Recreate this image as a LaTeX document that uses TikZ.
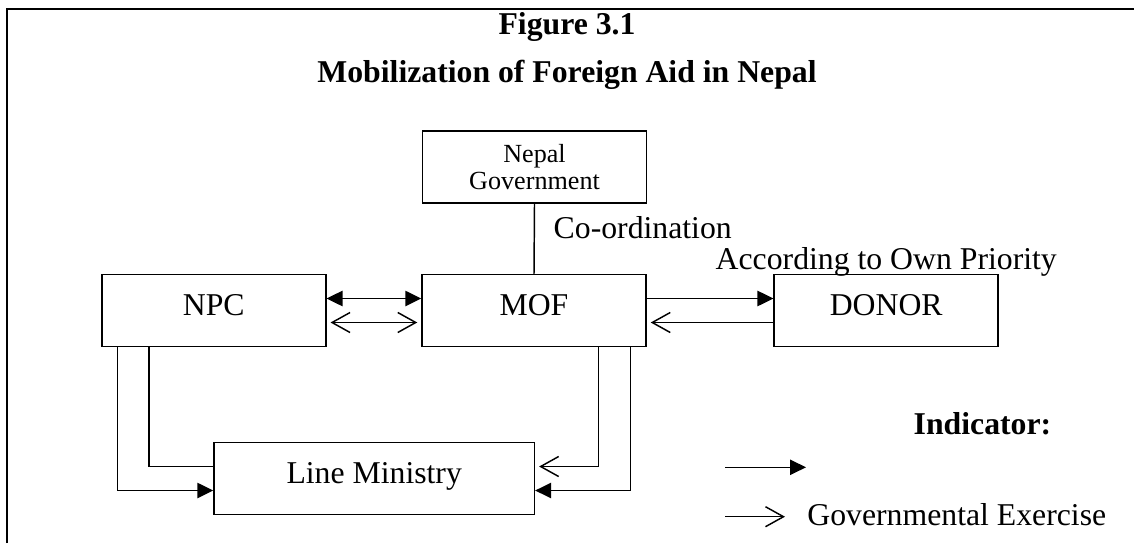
\documentclass[tikz,border=0pt]{standalone}
\usepackage{fontspec}
\setmainfont{Liberation Serif}
\usetikzlibrary{arrows.meta,positioning}

\begin{document}
\begin{tikzpicture}[x=0.75pt,y=-0.75pt,line width=1.1pt,
  box/.style={draw,minimum width=168pt,minimum height=54pt,inner sep=0pt,font=\fontsize{23.8}{28}\selectfont,text height=12pt,text depth=4pt},
  lbl/.style={inner sep=0pt,font=\fontsize{23.8}{28}\selectfont},
  fullarr/.style={-{Triangle[length=12pt,width=11.5pt]}},
  openarr/.style={-{Straight Barb[length=13.5pt,width=15pt]},shorten >=3pt}]
\useasboundingbox (0,0) rectangle (1134,543);
\draw (7,543) -- (7,9) -- (1134,9);
% titles
\node[lbl,font=\fontsize{23.8}{28}\selectfont\bfseries,anchor=base] (fig_no) at (567,34) {Figure 3.1};
\node[lbl,font=\fontsize{23.8}{28}\selectfont\bfseries,anchor=base] (fig_title) at (567,82) {Mobilization of Foreign Aid in Nepal};
% boxes
\node[box,font=\fontsize{19.6}{20.3}\selectfont,align=center,text height=,text depth=] (gov) at (534.5,167) {Nepal\\Government};
\node[box] (npc) at (213.8,310.5) {NPC};
\node[box] (mof) at (534,310.5) {MOF};
\node[box] (donor) at (886.2,310.5) {DONOR};
\node[box,minimum width=240.3pt] (lm) at (374.2,478.5) {Line Ministry};
\node[lbl,anchor=base west] (coord_lbl) at (553,238) {Co-ordination};
\node[lbl,anchor=base west] (prio_lbl) at (715,269.3) {According to Own Priority};
% links
\draw (gov.south) -- (mof.north);
\draw[{Triangle[length=12pt,width=11.5pt]}-{Triangle[length=12pt,width=11.5pt]}] ([yshift=9pt]npc.east) -- ([yshift=9pt]mof.west);
\draw[{Straight Barb[length=13.5pt,width=15pt]}-{Straight Barb[length=13.5pt,width=15pt]},shorten <=3pt,shorten >=3pt] ([yshift=-9pt]npc.east) -- ([yshift=-9pt]mof.west);
\draw[fullarr] ([yshift=9pt]mof.east) -- ([yshift=9pt]donor.west);
\draw[openarr] ([yshift=-9pt]donor.west) -- ([yshift=-9pt]mof.east);
\draw ([xshift=36pt]npc.south west) |- ([yshift=9pt]lm.west);
\draw[fullarr] ([xshift=12.5pt]npc.south west) |- ([yshift=-9pt]lm.west);
\draw[openarr] ([xshift=-36pt]mof.south east) |- ([yshift=9pt]lm.east);
\draw[fullarr] ([xshift=-12pt]mof.south east) |- ([yshift=-9pt]lm.east);
% indicator
\node[lbl,font=\fontsize{23.8}{28}\selectfont\bfseries,anchor=base west] (ind_lbl) at (913,434) {Indicator:};
\coordinate (key_a) at (725,467.3);
\coordinate (key_b) at (806,467.3);
\coordinate (key_c) at (725,516.7);
\coordinate (key_d) at (789,516.7);
\draw[fullarr] (key_a) -- (key_b);
\draw[openarr] (key_c) -- (key_d);
\node[lbl,anchor=base west] (gov_ex) at (806.7,525.7) {Governmental Exercise};
\end{tikzpicture}
\end{document}
